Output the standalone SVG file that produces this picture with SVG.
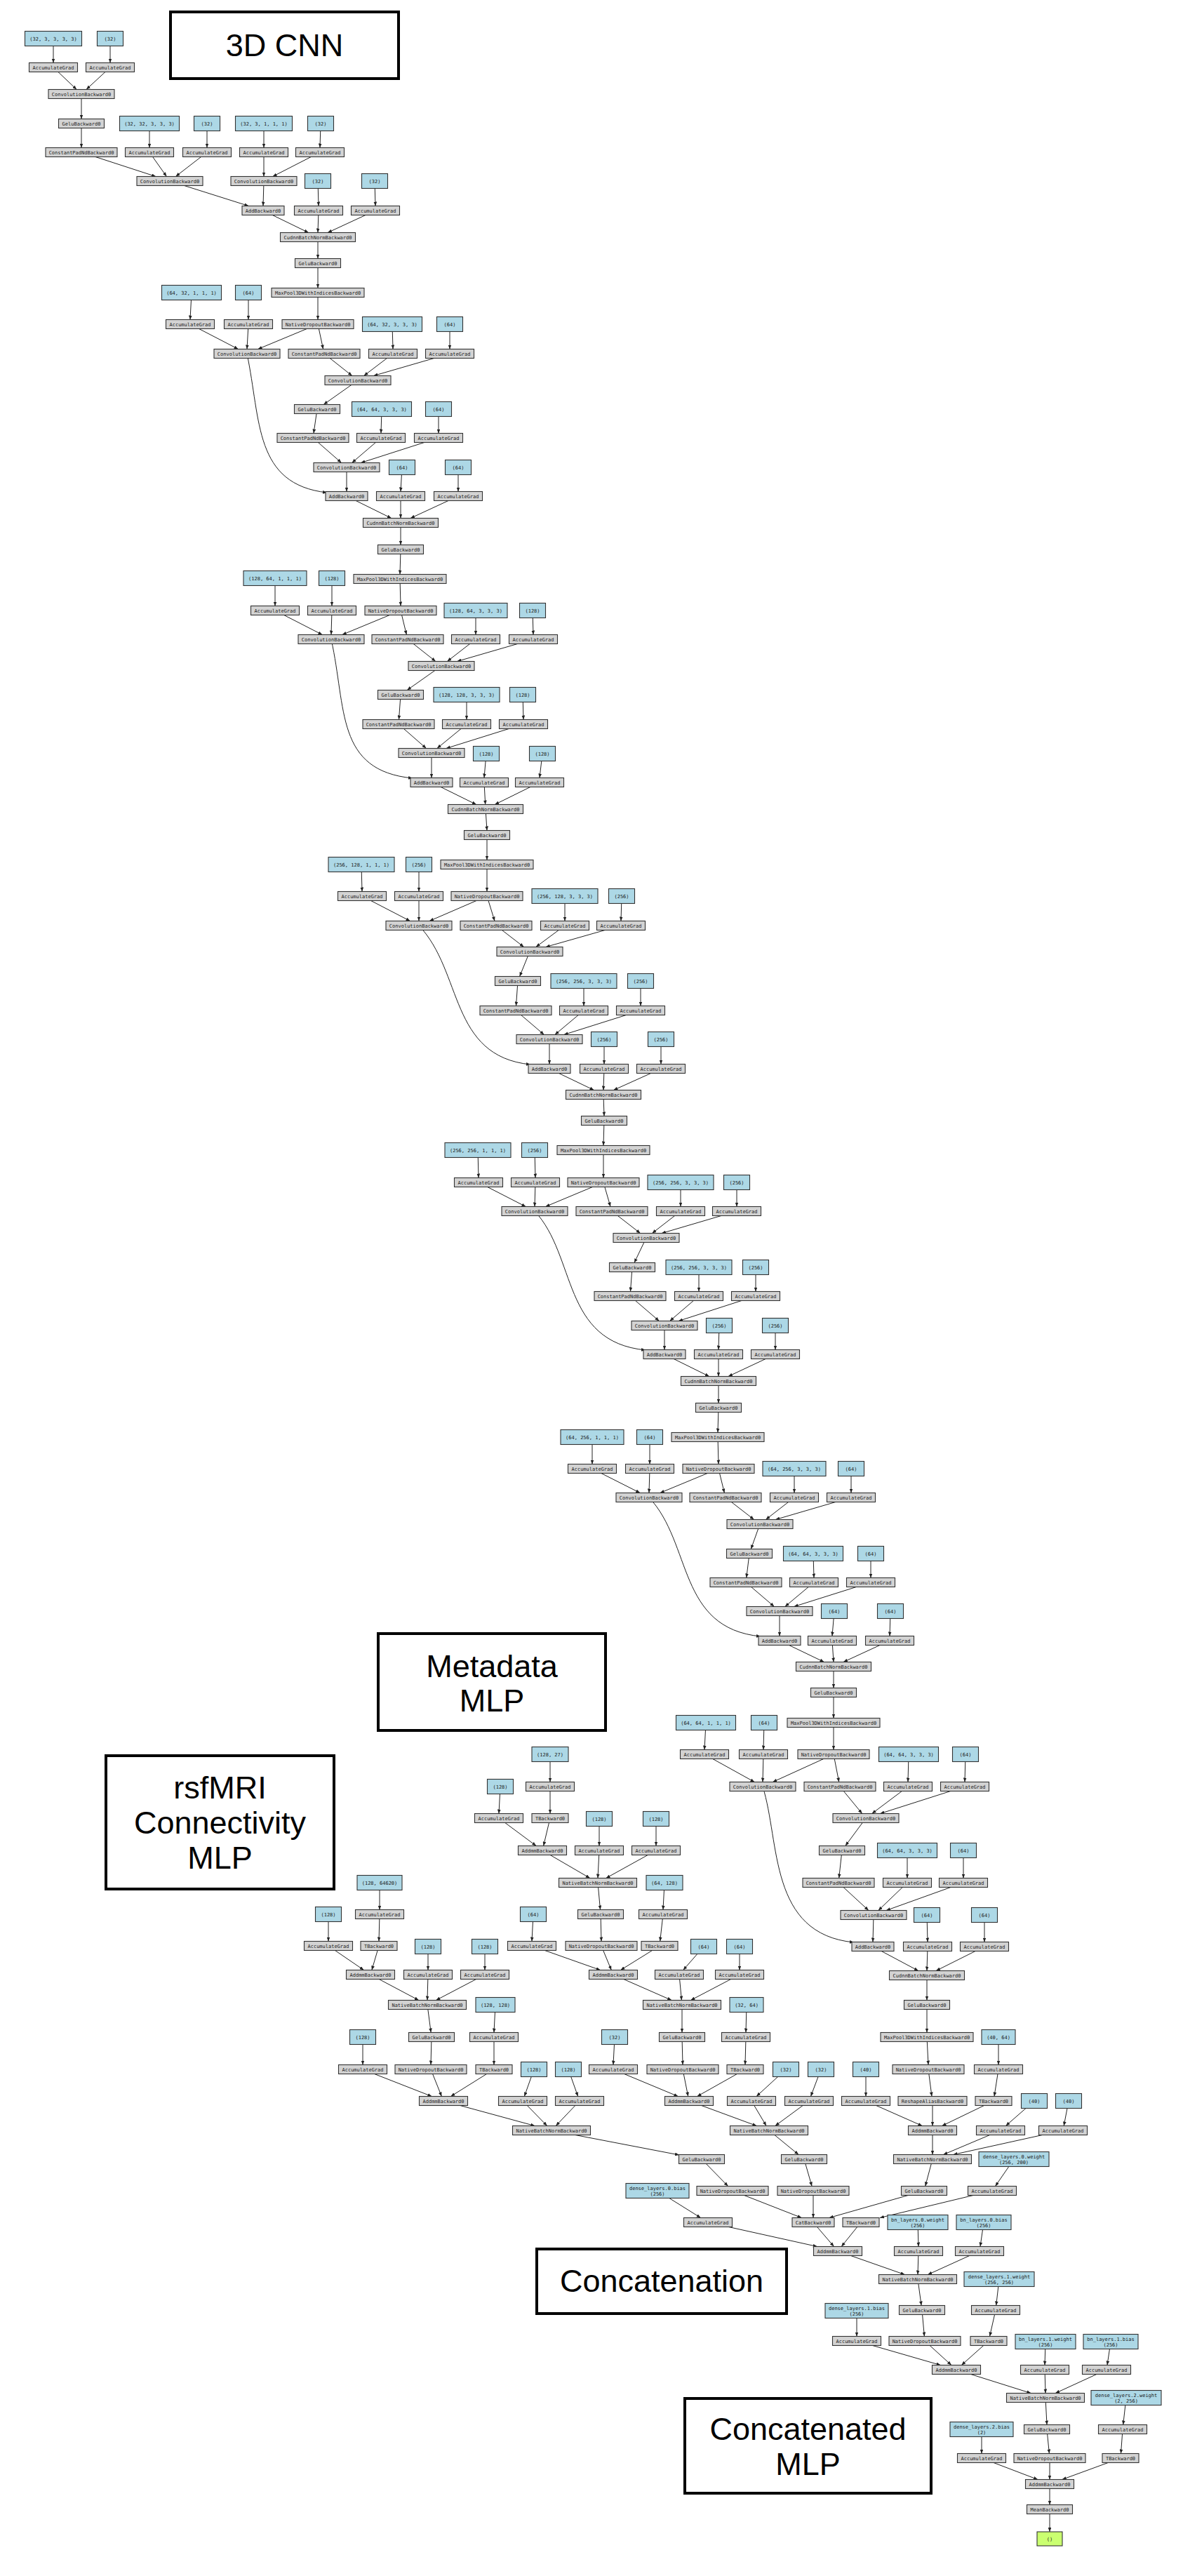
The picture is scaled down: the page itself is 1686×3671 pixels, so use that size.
<svg xmlns="http://www.w3.org/2000/svg" width="1686" height="3671" viewBox="0 0 1686 3671">
<defs>
<style>
.n rect{stroke:#333;stroke-width:1.1}
.g rect{fill:#d3d3d3}
.b rect{fill:#add8e6}
.o rect{fill:#caff70}
.n text{font-family:"DejaVu Sans Mono","Liberation Mono",monospace;font-size:7px;text-anchor:middle;fill:#1a1a1a}
.lbl rect{fill:#fff;stroke:#000;stroke-width:4}
.lbl text{font-family:"Liberation Sans",Arial,sans-serif;font-size:45px;text-anchor:middle;fill:#000}
#edges path{fill:none;stroke:#222;stroke-width:1}
</style>
<marker id="ar" viewBox="0 0 10 8" refX="10" refY="4" markerWidth="6" markerHeight="4.8" orient="auto" markerUnits="userSpaceOnUse"><path d="M0 0L10 4L0 8z" fill="#222"/></marker>
</defs>
<rect width="1686" height="3671" fill="#fff"/>
<g id="edges" marker-end="url(#ar)">
<path d="M76 55L76 89.5"/><path d="M157 55L157 89.5"/><path d="M76 96L109.2 127.5"/><path d="M157 96L123 127.5"/><path d="M116 134L116 169.5"/><path d="M116 176L116 210.5"/><path d="M213 176L213 210.5"/><path d="M295 176L295 210.5"/><path d="M376 176L376 210.5"/><path d="M457 176L456 210.5"/><path d="M116 217L222 251.5"/><path d="M213 217L237.4 251.5"/><path d="M295 217L250.4 251.5"/><path d="M376 217L376 251.5"/><path d="M456 217L388.7 251.5"/><path d="M242 258L354.4 293.5"/><path d="M376 258L375 293.5"/><path d="M453 258L454 293.5"/><path d="M534 258L535 293.5"/><path d="M375 300L439.7 331.5"/><path d="M454 300L453 331.5"/><path d="M535 300L467 331.5"/><path d="M453 338L453 368.5"/>
<path d="M453 375L453 410.5"/><path d="M453 417L453 455.5"/><path d="M273 417L271 455.5"/><path d="M354 417L354 455.5"/><path d="M271 462L339.5 497.5"/><path d="M354 462L352 497.5"/><path d="M453 462L367.6 497.5"/><path d="M453 462L460.6 497.5"/><path d="M559 462L560 497.5"/><path d="M641 462L641 497.5"/><path d="M462 504L501.8 535.5"/><path d="M560 504L518.6 535.5"/><path d="M641 504L532.4 535.5"/><path d="M510 542L461.2 576.5"/><path d="M452 583L447 617.5"/><path d="M544 583L543 617.5"/><path d="M625 583L625 617.5"/><path d="M446 624L486.6 659.5"/><path d="M543 624L501.6 659.5"/><path d="M625 624L514.3 659.5"/><path d="M352 504C372 600 362 690 466 702"/><path d="M494 666L494 700.5"/><path d="M573 666L571 700.5"/><path d="M653 666L653 700.5"/><path d="M494 707L557.8 738.5"/><path d="M571 707L571 738.5"/><path d="M653 707L585 738.5"/><path d="M571 745L571 776.5"/>
<path d="M571 783L570 818.5"/><path d="M570 825L571 863.5"/><path d="M392 824L392 863.5"/><path d="M473 824L473 863.5"/><path d="M392 870L459.3 904.5"/><path d="M473 870L472 904.5"/><path d="M571 870L487.7 904.5"/><path d="M571 870L579.4 904.5"/><path d="M678 870L678 904.5"/><path d="M759 870L760 904.5"/><path d="M581 911L620.8 942.5"/><path d="M678 911L637.4 942.5"/><path d="M760 911L651.4 942.5"/><path d="M629 949L580.2 983.5"/><path d="M571 990L568.5 1025.5"/><path d="M665 990L665 1025.5"/><path d="M745 990L746 1025.5"/><path d="M568 1032L607.5 1066.5"/><path d="M665 1032L622.9 1066.5"/><path d="M746 1032L635.8 1066.5"/><path d="M472 911C494 1010 478 1098 588 1109"/><path d="M615 1073L615 1108.5"/><path d="M693 1074L690 1108.5"/><path d="M773 1074L769 1108.5"/><path d="M615 1115L678.8 1146.5"/><path d="M690 1115L691.7 1146.5"/><path d="M769 1115L705.2 1146.5"/><path d="M692 1153L694 1183.5"/>
<path d="M694 1190L694 1225.5"/><path d="M694 1232L694 1270.5"/><path d="M515 1232L516 1270.5"/><path d="M597 1232L597 1270.5"/><path d="M516 1277L584.5 1312.5"/><path d="M597 1277L597 1312.5"/><path d="M694 1277L612 1312.5"/><path d="M694 1277L705 1312.5"/><path d="M805 1277L805 1312.5"/><path d="M886 1277L885 1312.5"/><path d="M707 1319L746.6 1349.5"/><path d="M805 1319L763.8 1349.5"/><path d="M885 1319L777.8 1349.5"/><path d="M755 1356L740.6 1391.5"/><path d="M738 1398L735.5 1433.5"/><path d="M832 1398L832 1433.5"/><path d="M913 1398L913 1433.5"/><path d="M735 1440L775.4 1474.5"/><path d="M832 1440L790.8 1474.5"/><path d="M913 1440L803.6 1474.5"/><path d="M597 1319C660 1385 640 1505 756 1517"/><path d="M783 1481L783 1516.5"/><path d="M861 1481L861 1516.5"/><path d="M942 1481L942 1516.5"/><path d="M783 1523L846.5 1553.5"/><path d="M861 1523L860 1553.5"/><path d="M942 1523L874.4 1553.5"/><path d="M860 1560L861 1590.5"/>
<path d="M861 1597L860 1632.5"/><path d="M860 1639L860 1678.5"/><path d="M681 1639L682 1678.5"/><path d="M762 1639L763 1678.5"/><path d="M682 1685L749.3 1719.5"/><path d="M763 1685L762 1719.5"/><path d="M860 1685L777.5 1719.5"/><path d="M860 1685L870 1719.5"/><path d="M970 1685L970 1719.5"/><path d="M1050 1685L1050 1719.5"/><path d="M872 1726L912.6 1757.5"/><path d="M970 1726L929.4 1757.5"/><path d="M1050 1726L943 1757.5"/><path d="M921 1764L904 1799.5"/><path d="M901 1806L898.5 1840.5"/><path d="M996 1806L996 1840.5"/><path d="M1077 1806L1077 1840.5"/><path d="M898 1847L939.4 1882.5"/><path d="M996 1847L954.6 1882.5"/><path d="M1077 1847L967.1 1882.5"/><path d="M762 1726C822 1790 800 1912 920 1924"/><path d="M947 1889L947 1923.5"/><path d="M1025 1889L1024 1923.5"/><path d="M1105 1889L1105 1923.5"/><path d="M947 1930L1010.8 1961.5"/><path d="M1024 1930L1024 1961.5"/><path d="M1105 1930L1037.9 1961.5"/><path d="M1024 1968L1024 1999.5"/>
<path d="M1024 2006L1023 2041.5"/><path d="M1023 2048L1024 2086.5"/><path d="M844 2048L844 2086.5"/><path d="M926 2048L926 2086.5"/><path d="M844 2093L912.2 2127.5"/><path d="M926 2093L925 2127.5"/><path d="M1024 2093L940.7 2127.5"/><path d="M1024 2093L1032.4 2127.5"/><path d="M1132 2093L1132 2127.5"/><path d="M1213 2093L1213 2127.5"/><path d="M1034 2134L1074.6 2165.5"/><path d="M1132 2134L1091.4 2165.5"/><path d="M1213 2134L1105.2 2165.5"/><path d="M1083 2172L1070.3 2207.5"/><path d="M1068 2214L1063.8 2248.5"/><path d="M1159 2214L1160 2248.5"/><path d="M1241 2214L1241 2248.5"/><path d="M1063 2255L1103.4 2289.5"/><path d="M1160 2255L1118.8 2289.5"/><path d="M1241 2255L1131.6 2289.5"/><path d="M925 2134C987 2200 965 2320 1084 2332"/><path d="M1111 2296L1111 2331.5"/><path d="M1189 2296L1186 2331.5"/><path d="M1269 2296L1268 2331.5"/><path d="M1111 2338L1174.5 2368.5"/><path d="M1186 2338L1188 2368.5"/><path d="M1268 2338L1202 2368.5"/><path d="M1188 2375L1188 2405.5"/>
<path d="M1188 2412L1188 2448.5"/><path d="M1188 2455L1188 2493.5"/><path d="M1006 2455L1004 2493.5"/><path d="M1089 2455L1088 2493.5"/><path d="M1004 2500L1075.3 2539.5"/><path d="M1088 2500L1087 2539.5"/><path d="M1188 2500L1101.3 2539.5"/><path d="M1188 2500L1195.7 2539.5"/><path d="M1295 2500L1294 2539.5"/><path d="M1376 2500L1375 2539.5"/><path d="M1197 2546L1228.7 2584.5"/><path d="M1294 2546L1242.7 2584.5"/><path d="M1375 2546L1254.4 2584.5"/><path d="M1234 2591L1204.8 2630.5"/><path d="M1200 2637L1195.7 2676.5"/><path d="M1293 2637L1293 2676.5"/><path d="M1373 2637L1373 2676.5"/><path d="M1195 2683L1237.9 2722.5"/><path d="M1293 2683L1251.8 2722.5"/><path d="M1373 2683L1263 2722.5"/><path d="M1087 2546C1112 2625 1095 2756 1217 2768"/><path d="M1245 2729L1244 2767.5"/><path d="M1321 2729L1322 2767.5"/><path d="M1403 2729L1403 2767.5"/><path d="M1244 2774L1308.8 2808.5"/><path d="M1322 2774L1321 2808.5"/><path d="M1403 2774L1334 2808.5"/><path d="M1321 2815L1321 2850.5"/>
<path d="M1321 2857L1321 2896.5"/><path d="M1321 2903L1323 2942.5"/><path d="M1423 2903L1423 2942.5"/><path d="M1323 2949L1328 2987.5"/><path d="M1423 2949L1417 2987.5"/><path d="M1234 2949L1234 2987.5"/><path d="M1234 2994L1314.3 3029.5"/><path d="M1329 2994L1329 3029.5"/><path d="M1416 2994L1342.5 3029.5"/><path d="M1474 2994L1433.4 3029.5"/><path d="M1523 2994L1516.2 3029.5"/><path d="M1329 3036L1329 3070.5"/><path d="M1426 3036L1344.4 3070.5"/><path d="M1515 3036L1358.5 3070.5"/><path d="M1329 3077L1318.7 3115.5"/><path d="M1445 3077L1418.5 3115.5"/><path d="M1317 3122L1181.8 3160.5"/><path d="M1414 3122L1254 3160.5"/>
<path d="M784 2500L784 2539.5"/><path d="M784 2546L784 2584.5"/><path d="M713 2546L711 2584.5"/><path d="M711 2591L764.2 2630.5"/><path d="M784 2591L774.6 2630.5"/><path d="M854 2592L854 2630.5"/><path d="M935 2592L935 2630.5"/><path d="M773 2637L840.8 2676.5"/><path d="M854 2637L852 2676.5"/><path d="M935 2637L863.7 2676.5"/><path d="M852 2683L855.5 2721.5"/><path d="M856 2728L857 2766.5"/><path d="M947 2683L945 2721.5"/><path d="M945 2728L940.7 2766.5"/><path d="M760 2728L758 2766.5"/><path d="M758 2773L855.6 2807.5"/><path d="M857 2773L871.3 2807.5"/><path d="M940 2773L884.5 2807.5"/><path d="M1003 2774L973.7 2807.5"/><path d="M1054 2774L1054 2807.5"/><path d="M874 2814L957.2 2850.5"/><path d="M968 2814L971.4 2850.5"/><path d="M1054 2814L984.4 2850.5"/><path d="M972 2857L972 2896.5"/><path d="M972 2903L973 2942.5"/><path d="M876 2903L874 2942.5"/><path d="M1064 2857L1063 2896.5"/><path d="M1063 2903L1062 2942.5"/><path d="M874 2949L966.4 2987.5"/><path d="M973 2949L980.7 2987.5"/><path d="M1062 2949L993.6 2987.5"/><path d="M1120 2949L1078.1 2987.5"/><path d="M1170 2949L1155.5 2987.5"/><path d="M982 2994L1078.4 3029.5"/><path d="M1071 2994L1092.1 3029.5"/><path d="M1153 2994L1104.8 3029.5"/><path d="M1096 3036L1138.1 3070.5"/><path d="M1146 3077L1157.1 3115.5"/><path d="M1159 3122L1159 3160.5"/>
<path d="M541 2683L541 2721.5"/><path d="M541 2728L540 2766.5"/><path d="M468 2728L468 2766.5"/><path d="M468 2773L518.5 2807.5"/><path d="M540 2773L529.9 2807.5"/><path d="M610 2774L610 2807.5"/><path d="M691 2774L691 2807.5"/><path d="M528 2814L596.8 2850.5"/><path d="M610 2814L609 2850.5"/><path d="M691 2814L621.4 2850.5"/><path d="M609 2857L614.2 2896.5"/><path d="M615 2903L614 2942.5"/><path d="M706 2857L704 2896.5"/><path d="M704 2903L704 2942.5"/><path d="M517 2903L517 2942.5"/><path d="M517 2949L615.4 2987.5"/><path d="M614 2949L629.4 2987.5"/><path d="M704 2949L642.4 2987.5"/><path d="M761 2949L747.3 2987.5"/><path d="M810 2949L823.7 2987.5"/><path d="M632 2994L762.2 3029.5"/><path d="M745 2994L779.7 3029.5"/><path d="M826 2994L792.2 3029.5"/><path d="M786 3036L968 3071"/><path d="M1000 3077L1037.6 3115.5"/><path d="M1044 3122L1142.4 3160.5"/>
<path d="M937 3122L998.6 3160.5"/><path d="M1009 3167L1164.7 3201.5"/><path d="M1159 3167L1188.5 3201.5"/><path d="M1227 3167L1199.2 3201.5"/><path d="M1308 3167L1309 3201.5"/><path d="M1402 3167L1397 3201.5"/><path d="M1194 3208L1289.5 3241.5"/><path d="M1309 3208L1308 3241.5"/><path d="M1396 3208L1322.3 3241.5"/><path d="M1308 3248L1313.1 3285.5"/><path d="M1314 3292L1317.4 3329.5"/><path d="M1424 3248L1419.7 3285.5"/><path d="M1419 3292L1410.5 3329.5"/><path d="M1221 3293L1221 3329.5"/><path d="M1221 3336L1340.5 3370.5"/><path d="M1318 3336L1355.9 3370.5"/><path d="M1409 3336L1370.3 3370.5"/><path d="M1490 3337L1489 3370.5"/><path d="M1583 3337L1578 3370.5"/><path d="M1363 3377L1469.4 3410.5"/><path d="M1489 3377L1490 3410.5"/><path d="M1577 3377L1504.1 3410.5"/><path d="M1490 3417L1492 3455.5"/><path d="M1492 3462L1495.4 3496.5"/><path d="M1605 3417L1600.7 3455.5"/><path d="M1600 3462L1597.5 3496.5"/><path d="M1399 3462L1399 3496.5"/><path d="M1399 3503L1479 3533.5"/><path d="M1496 3503L1496 3533.5"/><path d="M1597 3503L1513.7 3533.5"/><path d="M1496 3540L1496 3569.5"/><path d="M1496 3576L1496 3608"/>
</g>
<g id="nodes">
<g id="b1" class="n b" transform="translate(76,55)"><rect x="-40.5" y="-10.5" width="81" height="21"/><text y="2.5">(32, 3, 3, 3, 3)</text></g>
<g id="b2" class="n b" transform="translate(157,55)"><rect x="-18.5" y="-10.5" width="37" height="21"/><text y="2.5">(32)</text></g>
<g id="a1" class="n g" transform="translate(76,96)"><rect x="-34.5" y="-6.5" width="69" height="13"/><text y="2.5">AccumulateGrad</text></g>
<g id="a2" class="n g" transform="translate(157,96)"><rect x="-34.5" y="-6.5" width="69" height="13"/><text y="2.5">AccumulateGrad</text></g>
<g id="c1" class="n g" transform="translate(116,134)"><rect x="-47" y="-6.5" width="94" height="13"/><text y="2.5">ConvolutionBackward0</text></g>
<g id="g1" class="n g" transform="translate(116,176)"><rect x="-32.5" y="-6.5" width="65" height="13"/><text y="2.5">GeluBackward0</text></g>
<g id="p1" class="n g" transform="translate(116,217)"><rect x="-51" y="-6.5" width="102" height="13"/><text y="2.5">ConstantPadNdBackward0</text></g>
<g id="b3" class="n b" transform="translate(213,176)"><rect x="-42.5" y="-10.5" width="85" height="21"/><text y="2.5">(32, 32, 3, 3, 3)</text></g>
<g id="b4" class="n b" transform="translate(295,176)"><rect x="-18.5" y="-10.5" width="37" height="21"/><text y="2.5">(32)</text></g>
<g id="a3" class="n g" transform="translate(213,217)"><rect x="-34.5" y="-6.5" width="69" height="13"/><text y="2.5">AccumulateGrad</text></g>
<g id="a4" class="n g" transform="translate(295,217)"><rect x="-34.5" y="-6.5" width="69" height="13"/><text y="2.5">AccumulateGrad</text></g>
<g id="b5" class="n b" transform="translate(376,176)"><rect x="-40.5" y="-10.5" width="81" height="21"/><text y="2.5">(32, 3, 1, 1, 1)</text></g>
<g id="b6" class="n b" transform="translate(457,176)"><rect x="-18.5" y="-10.5" width="37" height="21"/><text y="2.5">(32)</text></g>
<g id="a5" class="n g" transform="translate(376,217)"><rect x="-34.5" y="-6.5" width="69" height="13"/><text y="2.5">AccumulateGrad</text></g>
<g id="a6" class="n g" transform="translate(456,217)"><rect x="-34.5" y="-6.5" width="69" height="13"/><text y="2.5">AccumulateGrad</text></g>
<g id="c2" class="n g" transform="translate(242,258)"><rect x="-47" y="-6.5" width="94" height="13"/><text y="2.5">ConvolutionBackward0</text></g>
<g id="c3" class="n g" transform="translate(376,258)"><rect x="-47" y="-6.5" width="94" height="13"/><text y="2.5">ConvolutionBackward0</text></g>
<g id="b7" class="n b" transform="translate(453,258)"><rect x="-18.5" y="-10.5" width="37" height="21"/><text y="2.5">(32)</text></g>
<g id="b8" class="n b" transform="translate(534,258)"><rect x="-18.5" y="-10.5" width="37" height="21"/><text y="2.5">(32)</text></g>
<g id="add1" class="n g" transform="translate(375,300)"><rect x="-30" y="-6.5" width="60" height="13"/><text y="2.5">AddBackward0</text></g>
<g id="a7" class="n g" transform="translate(454,300)"><rect x="-34.5" y="-6.5" width="69" height="13"/><text y="2.5">AccumulateGrad</text></g>
<g id="a8" class="n g" transform="translate(535,300)"><rect x="-34.5" y="-6.5" width="69" height="13"/><text y="2.5">AccumulateGrad</text></g>
<g id="bn1" class="n g" transform="translate(453,338)"><rect x="-53.5" y="-6.5" width="107" height="13"/><text y="2.5">CudnnBatchNormBackward0</text></g>

<g id="g2" class="n g" transform="translate(453,375)"><rect x="-32.5" y="-6.5" width="65" height="13"/><text y="2.5">GeluBackward0</text></g>
<g id="m1" class="n g" transform="translate(453,417)"><rect x="-66" y="-6.5" width="132" height="13"/><text y="2.5">MaxPool3DWithIndicesBackward0</text></g>
<g id="b9" class="n b" transform="translate(273,417)"><rect x="-42.5" y="-10.5" width="85" height="21"/><text y="2.5">(64, 32, 1, 1, 1)</text></g>
<g id="b10" class="n b" transform="translate(354,417)"><rect x="-18.5" y="-10.5" width="37" height="21"/><text y="2.5">(64)</text></g>
<g id="a9" class="n g" transform="translate(271,462)"><rect x="-34.5" y="-6.5" width="69" height="13"/><text y="2.5">AccumulateGrad</text></g>
<g id="a10" class="n g" transform="translate(354,462)"><rect x="-34.5" y="-6.5" width="69" height="13"/><text y="2.5">AccumulateGrad</text></g>
<g id="d1" class="n g" transform="translate(453,462)"><rect x="-51" y="-6.5" width="102" height="13"/><text y="2.5">NativeDropoutBackward0</text></g>
<g id="b11" class="n b" transform="translate(559,462)"><rect x="-42.5" y="-10.5" width="85" height="21"/><text y="2.5">(64, 32, 3, 3, 3)</text></g>
<g id="b12" class="n b" transform="translate(641,462)"><rect x="-18.5" y="-10.5" width="37" height="21"/><text y="2.5">(64)</text></g>
<g id="c4" class="n g" transform="translate(352,504)"><rect x="-47" y="-6.5" width="94" height="13"/><text y="2.5">ConvolutionBackward0</text></g>
<g id="p2" class="n g" transform="translate(462,504)"><rect x="-51" y="-6.5" width="102" height="13"/><text y="2.5">ConstantPadNdBackward0</text></g>
<g id="a11" class="n g" transform="translate(560,504)"><rect x="-34.5" y="-6.5" width="69" height="13"/><text y="2.5">AccumulateGrad</text></g>
<g id="a12" class="n g" transform="translate(641,504)"><rect x="-34.5" y="-6.5" width="69" height="13"/><text y="2.5">AccumulateGrad</text></g>
<g id="c5" class="n g" transform="translate(510,542)"><rect x="-47" y="-6.5" width="94" height="13"/><text y="2.5">ConvolutionBackward0</text></g>
<g id="g3" class="n g" transform="translate(452,583)"><rect x="-32.5" y="-6.5" width="65" height="13"/><text y="2.5">GeluBackward0</text></g>
<g id="b13" class="n b" transform="translate(544,583)"><rect x="-42.5" y="-10.5" width="85" height="21"/><text y="2.5">(64, 64, 3, 3, 3)</text></g>
<g id="b14" class="n b" transform="translate(625,583)"><rect x="-18.5" y="-10.5" width="37" height="21"/><text y="2.5">(64)</text></g>
<g id="p3" class="n g" transform="translate(446,624)"><rect x="-51" y="-6.5" width="102" height="13"/><text y="2.5">ConstantPadNdBackward0</text></g>
<g id="a13" class="n g" transform="translate(543,624)"><rect x="-34.5" y="-6.5" width="69" height="13"/><text y="2.5">AccumulateGrad</text></g>
<g id="a14" class="n g" transform="translate(625,624)"><rect x="-34.5" y="-6.5" width="69" height="13"/><text y="2.5">AccumulateGrad</text></g>
<g id="c6" class="n g" transform="translate(494,666)"><rect x="-47" y="-6.5" width="94" height="13"/><text y="2.5">ConvolutionBackward0</text></g>
<g id="b15" class="n b" transform="translate(573,666)"><rect x="-18.5" y="-10.5" width="37" height="21"/><text y="2.5">(64)</text></g>
<g id="b16" class="n b" transform="translate(653,666)"><rect x="-18.5" y="-10.5" width="37" height="21"/><text y="2.5">(64)</text></g>
<g id="add2" class="n g" transform="translate(494,707)"><rect x="-30" y="-6.5" width="60" height="13"/><text y="2.5">AddBackward0</text></g>
<g id="a15" class="n g" transform="translate(571,707)"><rect x="-34.5" y="-6.5" width="69" height="13"/><text y="2.5">AccumulateGrad</text></g>
<g id="a16" class="n g" transform="translate(653,707)"><rect x="-34.5" y="-6.5" width="69" height="13"/><text y="2.5">AccumulateGrad</text></g>
<g id="bn2" class="n g" transform="translate(571,745)"><rect x="-53.5" y="-6.5" width="107" height="13"/><text y="2.5">CudnnBatchNormBackward0</text></g>

<g id="g4" class="n g" transform="translate(571,783)"><rect x="-32.5" y="-6.5" width="65" height="13"/><text y="2.5">GeluBackward0</text></g>
<g id="m2" class="n g" transform="translate(570,825)"><rect x="-66" y="-6.5" width="132" height="13"/><text y="2.5">MaxPool3DWithIndicesBackward0</text></g>
<g id="b17" class="n b" transform="translate(392,824)"><rect x="-45" y="-10.5" width="90" height="21"/><text y="2.5">(128, 64, 1, 1, 1)</text></g>
<g id="b18" class="n b" transform="translate(473,824)"><rect x="-18.5" y="-10.5" width="37" height="21"/><text y="2.5">(128)</text></g>
<g id="a17" class="n g" transform="translate(392,870)"><rect x="-34.5" y="-6.5" width="69" height="13"/><text y="2.5">AccumulateGrad</text></g>
<g id="a18" class="n g" transform="translate(473,870)"><rect x="-34.5" y="-6.5" width="69" height="13"/><text y="2.5">AccumulateGrad</text></g>
<g id="d2" class="n g" transform="translate(571,870)"><rect x="-51" y="-6.5" width="102" height="13"/><text y="2.5">NativeDropoutBackward0</text></g>
<g id="b19" class="n b" transform="translate(678,870)"><rect x="-45" y="-10.5" width="90" height="21"/><text y="2.5">(128, 64, 3, 3, 3)</text></g>
<g id="b20" class="n b" transform="translate(759,870)"><rect x="-18.5" y="-10.5" width="37" height="21"/><text y="2.5">(128)</text></g>
<g id="c7" class="n g" transform="translate(472,911)"><rect x="-47" y="-6.5" width="94" height="13"/><text y="2.5">ConvolutionBackward0</text></g>
<g id="p4" class="n g" transform="translate(581,911)"><rect x="-51" y="-6.5" width="102" height="13"/><text y="2.5">ConstantPadNdBackward0</text></g>
<g id="a19" class="n g" transform="translate(678,911)"><rect x="-34.5" y="-6.5" width="69" height="13"/><text y="2.5">AccumulateGrad</text></g>
<g id="a20" class="n g" transform="translate(760,911)"><rect x="-34.5" y="-6.5" width="69" height="13"/><text y="2.5">AccumulateGrad</text></g>
<g id="c8" class="n g" transform="translate(629,949)"><rect x="-47" y="-6.5" width="94" height="13"/><text y="2.5">ConvolutionBackward0</text></g>
<g id="g5" class="n g" transform="translate(571,990)"><rect x="-32.5" y="-6.5" width="65" height="13"/><text y="2.5">GeluBackward0</text></g>
<g id="b21" class="n b" transform="translate(665,990)"><rect x="-47" y="-10.5" width="94" height="21"/><text y="2.5">(128, 128, 3, 3, 3)</text></g>
<g id="b22" class="n b" transform="translate(745,990)"><rect x="-18.5" y="-10.5" width="37" height="21"/><text y="2.5">(128)</text></g>
<g id="p5" class="n g" transform="translate(568,1032)"><rect x="-51" y="-6.5" width="102" height="13"/><text y="2.5">ConstantPadNdBackward0</text></g>
<g id="a21" class="n g" transform="translate(665,1032)"><rect x="-34.5" y="-6.5" width="69" height="13"/><text y="2.5">AccumulateGrad</text></g>
<g id="a22" class="n g" transform="translate(746,1032)"><rect x="-34.5" y="-6.5" width="69" height="13"/><text y="2.5">AccumulateGrad</text></g>
<g id="c9" class="n g" transform="translate(615,1073)"><rect x="-47" y="-6.5" width="94" height="13"/><text y="2.5">ConvolutionBackward0</text></g>
<g id="b23" class="n b" transform="translate(693,1074)"><rect x="-18.5" y="-10.5" width="37" height="21"/><text y="2.5">(128)</text></g>
<g id="b24" class="n b" transform="translate(773,1074)"><rect x="-18.5" y="-10.5" width="37" height="21"/><text y="2.5">(128)</text></g>
<g id="add3" class="n g" transform="translate(615,1115)"><rect x="-30" y="-6.5" width="60" height="13"/><text y="2.5">AddBackward0</text></g>
<g id="a23" class="n g" transform="translate(690,1115)"><rect x="-34.5" y="-6.5" width="69" height="13"/><text y="2.5">AccumulateGrad</text></g>
<g id="a24" class="n g" transform="translate(769,1115)"><rect x="-34.5" y="-6.5" width="69" height="13"/><text y="2.5">AccumulateGrad</text></g>
<g id="bn3" class="n g" transform="translate(692,1153)"><rect x="-53.5" y="-6.5" width="107" height="13"/><text y="2.5">CudnnBatchNormBackward0</text></g>

<g id="g6" class="n g" transform="translate(694,1190)"><rect x="-32.5" y="-6.5" width="65" height="13"/><text y="2.5">GeluBackward0</text></g>
<g id="m3" class="n g" transform="translate(694,1232)"><rect x="-66" y="-6.5" width="132" height="13"/><text y="2.5">MaxPool3DWithIndicesBackward0</text></g>
<g id="b25" class="n b" transform="translate(515,1232)"><rect x="-47" y="-10.5" width="94" height="21"/><text y="2.5">(256, 128, 1, 1, 1)</text></g>
<g id="b26" class="n b" transform="translate(597,1232)"><rect x="-18.5" y="-10.5" width="37" height="21"/><text y="2.5">(256)</text></g>
<g id="a25" class="n g" transform="translate(516,1277)"><rect x="-34.5" y="-6.5" width="69" height="13"/><text y="2.5">AccumulateGrad</text></g>
<g id="a26" class="n g" transform="translate(597,1277)"><rect x="-34.5" y="-6.5" width="69" height="13"/><text y="2.5">AccumulateGrad</text></g>
<g id="d3" class="n g" transform="translate(694,1277)"><rect x="-51" y="-6.5" width="102" height="13"/><text y="2.5">NativeDropoutBackward0</text></g>
<g id="b27" class="n b" transform="translate(805,1277)"><rect x="-47" y="-10.5" width="94" height="21"/><text y="2.5">(256, 128, 3, 3, 3)</text></g>
<g id="b28" class="n b" transform="translate(886,1277)"><rect x="-18.5" y="-10.5" width="37" height="21"/><text y="2.5">(256)</text></g>
<g id="c10" class="n g" transform="translate(597,1319)"><rect x="-47" y="-6.5" width="94" height="13"/><text y="2.5">ConvolutionBackward0</text></g>
<g id="p6" class="n g" transform="translate(707,1319)"><rect x="-51" y="-6.5" width="102" height="13"/><text y="2.5">ConstantPadNdBackward0</text></g>
<g id="a27" class="n g" transform="translate(805,1319)"><rect x="-34.5" y="-6.5" width="69" height="13"/><text y="2.5">AccumulateGrad</text></g>
<g id="a28" class="n g" transform="translate(885,1319)"><rect x="-34.5" y="-6.5" width="69" height="13"/><text y="2.5">AccumulateGrad</text></g>
<g id="c11" class="n g" transform="translate(755,1356)"><rect x="-47" y="-6.5" width="94" height="13"/><text y="2.5">ConvolutionBackward0</text></g>
<g id="g7" class="n g" transform="translate(738,1398)"><rect x="-32.5" y="-6.5" width="65" height="13"/><text y="2.5">GeluBackward0</text></g>
<g id="b29" class="n b" transform="translate(832,1398)"><rect x="-47" y="-10.5" width="94" height="21"/><text y="2.5">(256, 256, 3, 3, 3)</text></g>
<g id="b30" class="n b" transform="translate(913,1398)"><rect x="-18.5" y="-10.5" width="37" height="21"/><text y="2.5">(256)</text></g>
<g id="p7" class="n g" transform="translate(735,1440)"><rect x="-51" y="-6.5" width="102" height="13"/><text y="2.5">ConstantPadNdBackward0</text></g>
<g id="a29" class="n g" transform="translate(832,1440)"><rect x="-34.5" y="-6.5" width="69" height="13"/><text y="2.5">AccumulateGrad</text></g>
<g id="a30" class="n g" transform="translate(913,1440)"><rect x="-34.5" y="-6.5" width="69" height="13"/><text y="2.5">AccumulateGrad</text></g>
<g id="c12" class="n g" transform="translate(783,1481)"><rect x="-47" y="-6.5" width="94" height="13"/><text y="2.5">ConvolutionBackward0</text></g>
<g id="b31" class="n b" transform="translate(861,1481)"><rect x="-18.5" y="-10.5" width="37" height="21"/><text y="2.5">(256)</text></g>
<g id="b32" class="n b" transform="translate(942,1481)"><rect x="-18.5" y="-10.5" width="37" height="21"/><text y="2.5">(256)</text></g>
<g id="add4" class="n g" transform="translate(783,1523)"><rect x="-30" y="-6.5" width="60" height="13"/><text y="2.5">AddBackward0</text></g>
<g id="a31" class="n g" transform="translate(861,1523)"><rect x="-34.5" y="-6.5" width="69" height="13"/><text y="2.5">AccumulateGrad</text></g>
<g id="a32" class="n g" transform="translate(942,1523)"><rect x="-34.5" y="-6.5" width="69" height="13"/><text y="2.5">AccumulateGrad</text></g>
<g id="bn4" class="n g" transform="translate(860,1560)"><rect x="-53.5" y="-6.5" width="107" height="13"/><text y="2.5">CudnnBatchNormBackward0</text></g>

<g id="g8" class="n g" transform="translate(861,1597)"><rect x="-32.5" y="-6.5" width="65" height="13"/><text y="2.5">GeluBackward0</text></g>
<g id="m4" class="n g" transform="translate(860,1639)"><rect x="-66" y="-6.5" width="132" height="13"/><text y="2.5">MaxPool3DWithIndicesBackward0</text></g>
<g id="b33" class="n b" transform="translate(681,1639)"><rect x="-47" y="-10.5" width="94" height="21"/><text y="2.5">(256, 256, 1, 1, 1)</text></g>
<g id="b34" class="n b" transform="translate(762,1639)"><rect x="-18.5" y="-10.5" width="37" height="21"/><text y="2.5">(256)</text></g>
<g id="a33" class="n g" transform="translate(682,1685)"><rect x="-34.5" y="-6.5" width="69" height="13"/><text y="2.5">AccumulateGrad</text></g>
<g id="a34" class="n g" transform="translate(763,1685)"><rect x="-34.5" y="-6.5" width="69" height="13"/><text y="2.5">AccumulateGrad</text></g>
<g id="d4" class="n g" transform="translate(860,1685)"><rect x="-51" y="-6.5" width="102" height="13"/><text y="2.5">NativeDropoutBackward0</text></g>
<g id="b35" class="n b" transform="translate(970,1685)"><rect x="-47" y="-10.5" width="94" height="21"/><text y="2.5">(256, 256, 3, 3, 3)</text></g>
<g id="b36" class="n b" transform="translate(1050,1685)"><rect x="-18.5" y="-10.5" width="37" height="21"/><text y="2.5">(256)</text></g>
<g id="c13" class="n g" transform="translate(762,1726)"><rect x="-47" y="-6.5" width="94" height="13"/><text y="2.5">ConvolutionBackward0</text></g>
<g id="p8" class="n g" transform="translate(872,1726)"><rect x="-51" y="-6.5" width="102" height="13"/><text y="2.5">ConstantPadNdBackward0</text></g>
<g id="a35" class="n g" transform="translate(970,1726)"><rect x="-34.5" y="-6.5" width="69" height="13"/><text y="2.5">AccumulateGrad</text></g>
<g id="a36" class="n g" transform="translate(1050,1726)"><rect x="-34.5" y="-6.5" width="69" height="13"/><text y="2.5">AccumulateGrad</text></g>
<g id="c14" class="n g" transform="translate(921,1764)"><rect x="-47" y="-6.5" width="94" height="13"/><text y="2.5">ConvolutionBackward0</text></g>
<g id="g9" class="n g" transform="translate(901,1806)"><rect x="-32.5" y="-6.5" width="65" height="13"/><text y="2.5">GeluBackward0</text></g>
<g id="b37" class="n b" transform="translate(996,1806)"><rect x="-47" y="-10.5" width="94" height="21"/><text y="2.5">(256, 256, 3, 3, 3)</text></g>
<g id="b38" class="n b" transform="translate(1077,1806)"><rect x="-18.5" y="-10.5" width="37" height="21"/><text y="2.5">(256)</text></g>
<g id="p9" class="n g" transform="translate(898,1847)"><rect x="-51" y="-6.5" width="102" height="13"/><text y="2.5">ConstantPadNdBackward0</text></g>
<g id="a37" class="n g" transform="translate(996,1847)"><rect x="-34.5" y="-6.5" width="69" height="13"/><text y="2.5">AccumulateGrad</text></g>
<g id="a38" class="n g" transform="translate(1077,1847)"><rect x="-34.5" y="-6.5" width="69" height="13"/><text y="2.5">AccumulateGrad</text></g>
<g id="c15" class="n g" transform="translate(947,1889)"><rect x="-47" y="-6.5" width="94" height="13"/><text y="2.5">ConvolutionBackward0</text></g>
<g id="b39" class="n b" transform="translate(1025,1889)"><rect x="-18.5" y="-10.5" width="37" height="21"/><text y="2.5">(256)</text></g>
<g id="b40" class="n b" transform="translate(1105,1889)"><rect x="-18.5" y="-10.5" width="37" height="21"/><text y="2.5">(256)</text></g>
<g id="add5" class="n g" transform="translate(947,1930)"><rect x="-30" y="-6.5" width="60" height="13"/><text y="2.5">AddBackward0</text></g>
<g id="a39" class="n g" transform="translate(1024,1930)"><rect x="-34.5" y="-6.5" width="69" height="13"/><text y="2.5">AccumulateGrad</text></g>
<g id="a40" class="n g" transform="translate(1105,1930)"><rect x="-34.5" y="-6.5" width="69" height="13"/><text y="2.5">AccumulateGrad</text></g>
<g id="bn5" class="n g" transform="translate(1024,1968)"><rect x="-53.5" y="-6.5" width="107" height="13"/><text y="2.5">CudnnBatchNormBackward0</text></g>

<g id="g10" class="n g" transform="translate(1024,2006)"><rect x="-32.5" y="-6.5" width="65" height="13"/><text y="2.5">GeluBackward0</text></g>
<g id="m5" class="n g" transform="translate(1023,2048)"><rect x="-66" y="-6.5" width="132" height="13"/><text y="2.5">MaxPool3DWithIndicesBackward0</text></g>
<g id="b41" class="n b" transform="translate(844,2048)"><rect x="-45" y="-10.5" width="90" height="21"/><text y="2.5">(64, 256, 1, 1, 1)</text></g>
<g id="b42" class="n b" transform="translate(926,2048)"><rect x="-18.5" y="-10.5" width="37" height="21"/><text y="2.5">(64)</text></g>
<g id="a41" class="n g" transform="translate(844,2093)"><rect x="-34.5" y="-6.5" width="69" height="13"/><text y="2.5">AccumulateGrad</text></g>
<g id="a42" class="n g" transform="translate(926,2093)"><rect x="-34.5" y="-6.5" width="69" height="13"/><text y="2.5">AccumulateGrad</text></g>
<g id="d5" class="n g" transform="translate(1024,2093)"><rect x="-51" y="-6.5" width="102" height="13"/><text y="2.5">NativeDropoutBackward0</text></g>
<g id="b43" class="n b" transform="translate(1132,2093)"><rect x="-45" y="-10.5" width="90" height="21"/><text y="2.5">(64, 256, 3, 3, 3)</text></g>
<g id="b44" class="n b" transform="translate(1213,2093)"><rect x="-18.5" y="-10.5" width="37" height="21"/><text y="2.5">(64)</text></g>
<g id="c16" class="n g" transform="translate(925,2134)"><rect x="-47" y="-6.5" width="94" height="13"/><text y="2.5">ConvolutionBackward0</text></g>
<g id="p10" class="n g" transform="translate(1034,2134)"><rect x="-51" y="-6.5" width="102" height="13"/><text y="2.5">ConstantPadNdBackward0</text></g>
<g id="a43" class="n g" transform="translate(1132,2134)"><rect x="-34.5" y="-6.5" width="69" height="13"/><text y="2.5">AccumulateGrad</text></g>
<g id="a44" class="n g" transform="translate(1213,2134)"><rect x="-34.5" y="-6.5" width="69" height="13"/><text y="2.5">AccumulateGrad</text></g>
<g id="c17" class="n g" transform="translate(1083,2172)"><rect x="-47" y="-6.5" width="94" height="13"/><text y="2.5">ConvolutionBackward0</text></g>
<g id="g11" class="n g" transform="translate(1068,2214)"><rect x="-32.5" y="-6.5" width="65" height="13"/><text y="2.5">GeluBackward0</text></g>
<g id="b45" class="n b" transform="translate(1159,2214)"><rect x="-42.5" y="-10.5" width="85" height="21"/><text y="2.5">(64, 64, 3, 3, 3)</text></g>
<g id="b46" class="n b" transform="translate(1241,2214)"><rect x="-18.5" y="-10.5" width="37" height="21"/><text y="2.5">(64)</text></g>
<g id="p11" class="n g" transform="translate(1063,2255)"><rect x="-51" y="-6.5" width="102" height="13"/><text y="2.5">ConstantPadNdBackward0</text></g>
<g id="a45" class="n g" transform="translate(1160,2255)"><rect x="-34.5" y="-6.5" width="69" height="13"/><text y="2.5">AccumulateGrad</text></g>
<g id="a46" class="n g" transform="translate(1241,2255)"><rect x="-34.5" y="-6.5" width="69" height="13"/><text y="2.5">AccumulateGrad</text></g>
<g id="c18" class="n g" transform="translate(1111,2296)"><rect x="-47" y="-6.5" width="94" height="13"/><text y="2.5">ConvolutionBackward0</text></g>
<g id="b47" class="n b" transform="translate(1189,2296)"><rect x="-18.5" y="-10.5" width="37" height="21"/><text y="2.5">(64)</text></g>
<g id="b48" class="n b" transform="translate(1269,2296)"><rect x="-18.5" y="-10.5" width="37" height="21"/><text y="2.5">(64)</text></g>
<g id="add6" class="n g" transform="translate(1111,2338)"><rect x="-30" y="-6.5" width="60" height="13"/><text y="2.5">AddBackward0</text></g>
<g id="a47" class="n g" transform="translate(1186,2338)"><rect x="-34.5" y="-6.5" width="69" height="13"/><text y="2.5">AccumulateGrad</text></g>
<g id="a48" class="n g" transform="translate(1268,2338)"><rect x="-34.5" y="-6.5" width="69" height="13"/><text y="2.5">AccumulateGrad</text></g>
<g id="bn6" class="n g" transform="translate(1188,2375)"><rect x="-53.5" y="-6.5" width="107" height="13"/><text y="2.5">CudnnBatchNormBackward0</text></g>

<g id="g12" class="n g" transform="translate(1188,2412)"><rect x="-32.5" y="-6.5" width="65" height="13"/><text y="2.5">GeluBackward0</text></g>
<g id="m6" class="n g" transform="translate(1188,2455)"><rect x="-66" y="-6.5" width="132" height="13"/><text y="2.5">MaxPool3DWithIndicesBackward0</text></g>
<g id="b49" class="n b" transform="translate(1006,2455)"><rect x="-42.5" y="-10.5" width="85" height="21"/><text y="2.5">(64, 64, 1, 1, 1)</text></g>
<g id="b50" class="n b" transform="translate(1089,2455)"><rect x="-18.5" y="-10.5" width="37" height="21"/><text y="2.5">(64)</text></g>
<g id="a49" class="n g" transform="translate(1004,2500)"><rect x="-34.5" y="-6.5" width="69" height="13"/><text y="2.5">AccumulateGrad</text></g>
<g id="a50" class="n g" transform="translate(1088,2500)"><rect x="-34.5" y="-6.5" width="69" height="13"/><text y="2.5">AccumulateGrad</text></g>
<g id="d6" class="n g" transform="translate(1188,2500)"><rect x="-51" y="-6.5" width="102" height="13"/><text y="2.5">NativeDropoutBackward0</text></g>
<g id="b51" class="n b" transform="translate(1295,2500)"><rect x="-42.5" y="-10.5" width="85" height="21"/><text y="2.5">(64, 64, 3, 3, 3)</text></g>
<g id="b52" class="n b" transform="translate(1376,2500)"><rect x="-18.5" y="-10.5" width="37" height="21"/><text y="2.5">(64)</text></g>
<g id="c19" class="n g" transform="translate(1087,2546)"><rect x="-47" y="-6.5" width="94" height="13"/><text y="2.5">ConvolutionBackward0</text></g>
<g id="p12" class="n g" transform="translate(1197,2546)"><rect x="-51" y="-6.5" width="102" height="13"/><text y="2.5">ConstantPadNdBackward0</text></g>
<g id="a51" class="n g" transform="translate(1294,2546)"><rect x="-34.5" y="-6.5" width="69" height="13"/><text y="2.5">AccumulateGrad</text></g>
<g id="a52" class="n g" transform="translate(1375,2546)"><rect x="-34.5" y="-6.5" width="69" height="13"/><text y="2.5">AccumulateGrad</text></g>
<g id="c20" class="n g" transform="translate(1234,2591)"><rect x="-47" y="-6.5" width="94" height="13"/><text y="2.5">ConvolutionBackward0</text></g>
<g id="g13" class="n g" transform="translate(1200,2637)"><rect x="-32.5" y="-6.5" width="65" height="13"/><text y="2.5">GeluBackward0</text></g>
<g id="b53" class="n b" transform="translate(1293,2637)"><rect x="-42.5" y="-10.5" width="85" height="21"/><text y="2.5">(64, 64, 3, 3, 3)</text></g>
<g id="b54" class="n b" transform="translate(1373,2637)"><rect x="-18.5" y="-10.5" width="37" height="21"/><text y="2.5">(64)</text></g>
<g id="p13" class="n g" transform="translate(1195,2683)"><rect x="-51" y="-6.5" width="102" height="13"/><text y="2.5">ConstantPadNdBackward0</text></g>
<g id="a53" class="n g" transform="translate(1293,2683)"><rect x="-34.5" y="-6.5" width="69" height="13"/><text y="2.5">AccumulateGrad</text></g>
<g id="a54" class="n g" transform="translate(1373,2683)"><rect x="-34.5" y="-6.5" width="69" height="13"/><text y="2.5">AccumulateGrad</text></g>
<g id="c21" class="n g" transform="translate(1245,2729)"><rect x="-47" y="-6.5" width="94" height="13"/><text y="2.5">ConvolutionBackward0</text></g>
<g id="b55" class="n b" transform="translate(1321,2729)"><rect x="-18.5" y="-10.5" width="37" height="21"/><text y="2.5">(64)</text></g>
<g id="b56" class="n b" transform="translate(1403,2729)"><rect x="-18.5" y="-10.5" width="37" height="21"/><text y="2.5">(64)</text></g>
<g id="add7" class="n g" transform="translate(1244,2774)"><rect x="-30" y="-6.5" width="60" height="13"/><text y="2.5">AddBackward0</text></g>
<g id="a55" class="n g" transform="translate(1322,2774)"><rect x="-34.5" y="-6.5" width="69" height="13"/><text y="2.5">AccumulateGrad</text></g>
<g id="a56" class="n g" transform="translate(1403,2774)"><rect x="-34.5" y="-6.5" width="69" height="13"/><text y="2.5">AccumulateGrad</text></g>
<g id="bn7" class="n g" transform="translate(1321,2815)"><rect x="-53.5" y="-6.5" width="107" height="13"/><text y="2.5">CudnnBatchNormBackward0</text></g>

<g id="g14" class="n g" transform="translate(1321,2857)"><rect x="-32.5" y="-6.5" width="65" height="13"/><text y="2.5">GeluBackward0</text></g>
<g id="m7" class="n g" transform="translate(1321,2903)"><rect x="-66" y="-6.5" width="132" height="13"/><text y="2.5">MaxPool3DWithIndicesBackward0</text></g>
<g id="b57" class="n b" transform="translate(1423,2903)"><rect x="-24" y="-10.5" width="48" height="21"/><text y="2.5">(40, 64)</text></g>
<g id="d7" class="n g" transform="translate(1323,2949)"><rect x="-51" y="-6.5" width="102" height="13"/><text y="2.5">NativeDropoutBackward0</text></g>
<g id="a57" class="n g" transform="translate(1423,2949)"><rect x="-34.5" y="-6.5" width="69" height="13"/><text y="2.5">AccumulateGrad</text></g>
<g id="b58" class="n b" transform="translate(1234,2949)"><rect x="-18.5" y="-10.5" width="37" height="21"/><text y="2.5">(40)</text></g>
<g id="a58" class="n g" transform="translate(1234,2994)"><rect x="-34.5" y="-6.5" width="69" height="13"/><text y="2.5">AccumulateGrad</text></g>
<g id="r1" class="n g" transform="translate(1329,2994)"><rect x="-49" y="-6.5" width="98" height="13"/><text y="2.5">ReshapeAliasBackward0</text></g>
<g id="t1" class="n g" transform="translate(1416,2994)"><rect x="-26" y="-6.5" width="52" height="13"/><text y="2.5">TBackward0</text></g>
<g id="b59" class="n b" transform="translate(1474,2994)"><rect x="-18.5" y="-10.5" width="37" height="21"/><text y="2.5">(40)</text></g>
<g id="b60" class="n b" transform="translate(1523,2994)"><rect x="-18.5" y="-10.5" width="37" height="21"/><text y="2.5">(40)</text></g>
<g id="mm1" class="n g" transform="translate(1329,3036)"><rect x="-34.5" y="-6.5" width="69" height="13"/><text y="2.5">AddmmBackward0</text></g>
<g id="a59" class="n g" transform="translate(1426,3036)"><rect x="-34.5" y="-6.5" width="69" height="13"/><text y="2.5">AccumulateGrad</text></g>
<g id="a60" class="n g" transform="translate(1515,3036)"><rect x="-34.5" y="-6.5" width="69" height="13"/><text y="2.5">AccumulateGrad</text></g>
<g id="nbn1" class="n g" transform="translate(1329,3077)"><rect x="-55.5" y="-6.5" width="111" height="13"/><text y="2.5">NativeBatchNormBackward0</text></g>
<g id="b61" class="n b" transform="translate(1445,3077)"><rect x="-50" y="-10.5" width="100" height="21"/><text y="-1.5">dense_layers.0.weight</text><text y="6.5">(256, 200)</text></g>
<g id="g15" class="n g" transform="translate(1317,3122)"><rect x="-32.5" y="-6.5" width="65" height="13"/><text y="2.5">GeluBackward0</text></g>
<g id="a61" class="n g" transform="translate(1414,3122)"><rect x="-34.5" y="-6.5" width="69" height="13"/><text y="2.5">AccumulateGrad</text></g>

<g id="b62" class="n b" transform="translate(784,2500)"><rect x="-26" y="-10.5" width="52" height="21"/><text y="2.5">(128, 27)</text></g>
<g id="a62" class="n g" transform="translate(784,2546)"><rect x="-34.5" y="-6.5" width="69" height="13"/><text y="2.5">AccumulateGrad</text></g>
<g id="b63" class="n b" transform="translate(713,2546)"><rect x="-18.5" y="-10.5" width="37" height="21"/><text y="2.5">(128)</text></g>
<g id="a63" class="n g" transform="translate(711,2591)"><rect x="-34.5" y="-6.5" width="69" height="13"/><text y="2.5">AccumulateGrad</text></g>
<g id="t3" class="n g" transform="translate(784,2591)"><rect x="-26" y="-6.5" width="52" height="13"/><text y="2.5">TBackward0</text></g>
<g id="b64" class="n b" transform="translate(854,2592)"><rect x="-18.5" y="-10.5" width="37" height="21"/><text y="2.5">(128)</text></g>
<g id="b65" class="n b" transform="translate(935,2592)"><rect x="-18.5" y="-10.5" width="37" height="21"/><text y="2.5">(128)</text></g>
<g id="mm2" class="n g" transform="translate(773,2637)"><rect x="-34.5" y="-6.5" width="69" height="13"/><text y="2.5">AddmmBackward0</text></g>
<g id="a64" class="n g" transform="translate(854,2637)"><rect x="-34.5" y="-6.5" width="69" height="13"/><text y="2.5">AccumulateGrad</text></g>
<g id="a65" class="n g" transform="translate(935,2637)"><rect x="-34.5" y="-6.5" width="69" height="13"/><text y="2.5">AccumulateGrad</text></g>
<g id="nbn2" class="n g" transform="translate(852,2683)"><rect x="-55.5" y="-6.5" width="111" height="13"/><text y="2.5">NativeBatchNormBackward0</text></g>
<g id="b66" class="n b" transform="translate(947,2683)"><rect x="-26" y="-10.5" width="52" height="21"/><text y="2.5">(64, 128)</text></g>
<g id="g16" class="n g" transform="translate(856,2728)"><rect x="-32.5" y="-6.5" width="65" height="13"/><text y="2.5">GeluBackward0</text></g>
<g id="a66" class="n g" transform="translate(945,2728)"><rect x="-34.5" y="-6.5" width="69" height="13"/><text y="2.5">AccumulateGrad</text></g>
<g id="b67" class="n b" transform="translate(760,2728)"><rect x="-18.5" y="-10.5" width="37" height="21"/><text y="2.5">(64)</text></g>
<g id="a67" class="n g" transform="translate(758,2773)"><rect x="-34.5" y="-6.5" width="69" height="13"/><text y="2.5">AccumulateGrad</text></g>
<g id="d8" class="n g" transform="translate(857,2773)"><rect x="-51" y="-6.5" width="102" height="13"/><text y="2.5">NativeDropoutBackward0</text></g>
<g id="t4" class="n g" transform="translate(940,2773)"><rect x="-26" y="-6.5" width="52" height="13"/><text y="2.5">TBackward0</text></g>
<g id="b68" class="n b" transform="translate(1003,2774)"><rect x="-18.5" y="-10.5" width="37" height="21"/><text y="2.5">(64)</text></g>
<g id="b69" class="n b" transform="translate(1054,2774)"><rect x="-18.5" y="-10.5" width="37" height="21"/><text y="2.5">(64)</text></g>
<g id="mm3" class="n g" transform="translate(874,2814)"><rect x="-34.5" y="-6.5" width="69" height="13"/><text y="2.5">AddmmBackward0</text></g>
<g id="a68" class="n g" transform="translate(968,2814)"><rect x="-34.5" y="-6.5" width="69" height="13"/><text y="2.5">AccumulateGrad</text></g>
<g id="a69" class="n g" transform="translate(1054,2814)"><rect x="-34.5" y="-6.5" width="69" height="13"/><text y="2.5">AccumulateGrad</text></g>
<g id="nbn3" class="n g" transform="translate(972,2857)"><rect x="-55.5" y="-6.5" width="111" height="13"/><text y="2.5">NativeBatchNormBackward0</text></g>
<g id="b71" class="n b" transform="translate(1064,2857)"><rect x="-24" y="-10.5" width="48" height="21"/><text y="2.5">(32, 64)</text></g>
<g id="b70" class="n b" transform="translate(876,2903)"><rect x="-18.5" y="-10.5" width="37" height="21"/><text y="2.5">(32)</text></g>
<g id="g17" class="n g" transform="translate(972,2903)"><rect x="-32.5" y="-6.5" width="65" height="13"/><text y="2.5">GeluBackward0</text></g>
<g id="a71" class="n g" transform="translate(1063,2903)"><rect x="-34.5" y="-6.5" width="69" height="13"/><text y="2.5">AccumulateGrad</text></g>
<g id="a70" class="n g" transform="translate(874,2949)"><rect x="-34.5" y="-6.5" width="69" height="13"/><text y="2.5">AccumulateGrad</text></g>
<g id="d9" class="n g" transform="translate(973,2949)"><rect x="-51" y="-6.5" width="102" height="13"/><text y="2.5">NativeDropoutBackward0</text></g>
<g id="t5" class="n g" transform="translate(1062,2949)"><rect x="-26" y="-6.5" width="52" height="13"/><text y="2.5">TBackward0</text></g>
<g id="b72" class="n b" transform="translate(1120,2949)"><rect x="-18.5" y="-10.5" width="37" height="21"/><text y="2.5">(32)</text></g>
<g id="b73" class="n b" transform="translate(1170,2949)"><rect x="-18.5" y="-10.5" width="37" height="21"/><text y="2.5">(32)</text></g>
<g id="mm4" class="n g" transform="translate(982,2994)"><rect x="-34.5" y="-6.5" width="69" height="13"/><text y="2.5">AddmmBackward0</text></g>
<g id="a72" class="n g" transform="translate(1071,2994)"><rect x="-34.5" y="-6.5" width="69" height="13"/><text y="2.5">AccumulateGrad</text></g>
<g id="a73" class="n g" transform="translate(1153,2994)"><rect x="-34.5" y="-6.5" width="69" height="13"/><text y="2.5">AccumulateGrad</text></g>
<g id="nbn4" class="n g" transform="translate(1096,3036)"><rect x="-55.5" y="-6.5" width="111" height="13"/><text y="2.5">NativeBatchNormBackward0</text></g>
<g id="g18" class="n g" transform="translate(1146,3077)"><rect x="-32.5" y="-6.5" width="65" height="13"/><text y="2.5">GeluBackward0</text></g>
<g id="d10" class="n g" transform="translate(1159,3122)"><rect x="-51" y="-6.5" width="102" height="13"/><text y="2.5">NativeDropoutBackward0</text></g>

<g id="b74" class="n b" transform="translate(541,2683)"><rect x="-32" y="-10.5" width="64" height="21"/><text y="2.5">(128, 64620)</text></g>
<g id="a74" class="n g" transform="translate(541,2728)"><rect x="-34.5" y="-6.5" width="69" height="13"/><text y="2.5">AccumulateGrad</text></g>
<g id="b75" class="n b" transform="translate(468,2728)"><rect x="-18.5" y="-10.5" width="37" height="21"/><text y="2.5">(128)</text></g>
<g id="a75" class="n g" transform="translate(468,2773)"><rect x="-34.5" y="-6.5" width="69" height="13"/><text y="2.5">AccumulateGrad</text></g>
<g id="t6" class="n g" transform="translate(540,2773)"><rect x="-26" y="-6.5" width="52" height="13"/><text y="2.5">TBackward0</text></g>
<g id="b76" class="n b" transform="translate(610,2774)"><rect x="-18.5" y="-10.5" width="37" height="21"/><text y="2.5">(128)</text></g>
<g id="b77" class="n b" transform="translate(691,2774)"><rect x="-18.5" y="-10.5" width="37" height="21"/><text y="2.5">(128)</text></g>
<g id="mm5" class="n g" transform="translate(528,2814)"><rect x="-34.5" y="-6.5" width="69" height="13"/><text y="2.5">AddmmBackward0</text></g>
<g id="a76" class="n g" transform="translate(610,2814)"><rect x="-34.5" y="-6.5" width="69" height="13"/><text y="2.5">AccumulateGrad</text></g>
<g id="a77" class="n g" transform="translate(691,2814)"><rect x="-34.5" y="-6.5" width="69" height="13"/><text y="2.5">AccumulateGrad</text></g>
<g id="nbn5" class="n g" transform="translate(609,2857)"><rect x="-55.5" y="-6.5" width="111" height="13"/><text y="2.5">NativeBatchNormBackward0</text></g>
<g id="b78" class="n b" transform="translate(706,2857)"><rect x="-28" y="-10.5" width="56" height="21"/><text y="2.5">(128, 128)</text></g>
<g id="b79" class="n b" transform="translate(517,2903)"><rect x="-18.5" y="-10.5" width="37" height="21"/><text y="2.5">(128)</text></g>
<g id="g19" class="n g" transform="translate(615,2903)"><rect x="-32.5" y="-6.5" width="65" height="13"/><text y="2.5">GeluBackward0</text></g>
<g id="a78" class="n g" transform="translate(704,2903)"><rect x="-34.5" y="-6.5" width="69" height="13"/><text y="2.5">AccumulateGrad</text></g>
<g id="a79" class="n g" transform="translate(517,2949)"><rect x="-34.5" y="-6.5" width="69" height="13"/><text y="2.5">AccumulateGrad</text></g>
<g id="d11" class="n g" transform="translate(614,2949)"><rect x="-51" y="-6.5" width="102" height="13"/><text y="2.5">NativeDropoutBackward0</text></g>
<g id="t7" class="n g" transform="translate(704,2949)"><rect x="-26" y="-6.5" width="52" height="13"/><text y="2.5">TBackward0</text></g>
<g id="b80" class="n b" transform="translate(761,2949)"><rect x="-18.5" y="-10.5" width="37" height="21"/><text y="2.5">(128)</text></g>
<g id="b81" class="n b" transform="translate(810,2949)"><rect x="-18.5" y="-10.5" width="37" height="21"/><text y="2.5">(128)</text></g>
<g id="mm6" class="n g" transform="translate(632,2994)"><rect x="-34.5" y="-6.5" width="69" height="13"/><text y="2.5">AddmmBackward0</text></g>
<g id="a80" class="n g" transform="translate(745,2994)"><rect x="-34.5" y="-6.5" width="69" height="13"/><text y="2.5">AccumulateGrad</text></g>
<g id="a81" class="n g" transform="translate(826,2994)"><rect x="-34.5" y="-6.5" width="69" height="13"/><text y="2.5">AccumulateGrad</text></g>
<g id="nbn6" class="n g" transform="translate(786,3036)"><rect x="-55.5" y="-6.5" width="111" height="13"/><text y="2.5">NativeBatchNormBackward0</text></g>
<g id="g20" class="n g" transform="translate(1000,3077)"><rect x="-32.5" y="-6.5" width="65" height="13"/><text y="2.5">GeluBackward0</text></g>
<g id="d12" class="n g" transform="translate(1044,3122)"><rect x="-51" y="-6.5" width="102" height="13"/><text y="2.5">NativeDropoutBackward0</text></g>

<g id="b82" class="n b" transform="translate(937,3122)"><rect x="-45" y="-10.5" width="90" height="21"/><text y="-1.5">dense_layers.0.bias</text><text y="6.5">(256)</text></g>
<g id="a82" class="n g" transform="translate(1009,3167)"><rect x="-34.5" y="-6.5" width="69" height="13"/><text y="2.5">AccumulateGrad</text></g>
<g id="cat" class="n g" transform="translate(1159,3167)"><rect x="-30" y="-6.5" width="60" height="13"/><text y="2.5">CatBackward0</text></g>
<g id="t2" class="n g" transform="translate(1227,3167)"><rect x="-26" y="-6.5" width="52" height="13"/><text y="2.5">TBackward0</text></g>
<g id="b83" class="n b" transform="translate(1308,3167)"><rect x="-43" y="-10.5" width="86" height="21"/><text y="-1.5">bn_layers.0.weight</text><text y="6.5">(256)</text></g>
<g id="b84" class="n b" transform="translate(1402,3167)"><rect x="-39" y="-10.5" width="78" height="21"/><text y="-1.5">bn_layers.0.bias</text><text y="6.5">(256)</text></g>
<g id="mm7" class="n g" transform="translate(1194,3208)"><rect x="-34.5" y="-6.5" width="69" height="13"/><text y="2.5">AddmmBackward0</text></g>
<g id="a83" class="n g" transform="translate(1309,3208)"><rect x="-34.5" y="-6.5" width="69" height="13"/><text y="2.5">AccumulateGrad</text></g>
<g id="a84" class="n g" transform="translate(1396,3208)"><rect x="-34.5" y="-6.5" width="69" height="13"/><text y="2.5">AccumulateGrad</text></g>
<g id="nbn7" class="n g" transform="translate(1308,3248)"><rect x="-55.5" y="-6.5" width="111" height="13"/><text y="2.5">NativeBatchNormBackward0</text></g>
<g id="b85" class="n b" transform="translate(1424,3248)"><rect x="-50" y="-10.5" width="100" height="21"/><text y="-1.5">dense_layers.1.weight</text><text y="6.5">(256, 256)</text></g>
<g id="b86" class="n b" transform="translate(1221,3293)"><rect x="-45" y="-10.5" width="90" height="21"/><text y="-1.5">dense_layers.1.bias</text><text y="6.5">(256)</text></g>
<g id="g21" class="n g" transform="translate(1314,3292)"><rect x="-32.5" y="-6.5" width="65" height="13"/><text y="2.5">GeluBackward0</text></g>
<g id="a85" class="n g" transform="translate(1419,3292)"><rect x="-34.5" y="-6.5" width="69" height="13"/><text y="2.5">AccumulateGrad</text></g>
<g id="a86" class="n g" transform="translate(1221,3336)"><rect x="-34.5" y="-6.5" width="69" height="13"/><text y="2.5">AccumulateGrad</text></g>
<g id="d13" class="n g" transform="translate(1318,3336)"><rect x="-51" y="-6.5" width="102" height="13"/><text y="2.5">NativeDropoutBackward0</text></g>
<g id="t8" class="n g" transform="translate(1409,3336)"><rect x="-26" y="-6.5" width="52" height="13"/><text y="2.5">TBackward0</text></g>
<g id="b87" class="n b" transform="translate(1490,3337)"><rect x="-43" y="-10.5" width="86" height="21"/><text y="-1.5">bn_layers.1.weight</text><text y="6.5">(256)</text></g>
<g id="b88" class="n b" transform="translate(1583,3337)"><rect x="-39" y="-10.5" width="78" height="21"/><text y="-1.5">bn_layers.1.bias</text><text y="6.5">(256)</text></g>
<g id="mm8" class="n g" transform="translate(1363,3377)"><rect x="-34.5" y="-6.5" width="69" height="13"/><text y="2.5">AddmmBackward0</text></g>
<g id="a87" class="n g" transform="translate(1489,3377)"><rect x="-34.5" y="-6.5" width="69" height="13"/><text y="2.5">AccumulateGrad</text></g>
<g id="a88" class="n g" transform="translate(1577,3377)"><rect x="-34.5" y="-6.5" width="69" height="13"/><text y="2.5">AccumulateGrad</text></g>
<g id="nbn8" class="n g" transform="translate(1490,3417)"><rect x="-55.5" y="-6.5" width="111" height="13"/><text y="2.5">NativeBatchNormBackward0</text></g>
<g id="b89" class="n b" transform="translate(1605,3417)"><rect x="-50" y="-10.5" width="100" height="21"/><text y="-1.5">dense_layers.2.weight</text><text y="6.5">(2, 256)</text></g>
<g id="b90" class="n b" transform="translate(1399,3462)"><rect x="-45" y="-10.5" width="90" height="21"/><text y="-1.5">dense_layers.2.bias</text><text y="6.5">(2)</text></g>
<g id="g22" class="n g" transform="translate(1492,3462)"><rect x="-32.5" y="-6.5" width="65" height="13"/><text y="2.5">GeluBackward0</text></g>
<g id="a89" class="n g" transform="translate(1600,3462)"><rect x="-34.5" y="-6.5" width="69" height="13"/><text y="2.5">AccumulateGrad</text></g>
<g id="a90" class="n g" transform="translate(1399,3503)"><rect x="-34.5" y="-6.5" width="69" height="13"/><text y="2.5">AccumulateGrad</text></g>
<g id="d14" class="n g" transform="translate(1496,3503)"><rect x="-51" y="-6.5" width="102" height="13"/><text y="2.5">NativeDropoutBackward0</text></g>
<g id="t9" class="n g" transform="translate(1597,3503)"><rect x="-26" y="-6.5" width="52" height="13"/><text y="2.5">TBackward0</text></g>
<g id="mm9" class="n g" transform="translate(1496,3540)"><rect x="-34.5" y="-6.5" width="69" height="13"/><text y="2.5">AddmmBackward0</text></g>
<g id="mean" class="n g" transform="translate(1496,3576)"><rect x="-32.5" y="-6.5" width="65" height="13"/><text y="2.5">MeanBackward0</text></g>
<g id="out" class="n o" transform="translate(1496,3618)"><rect x="-18" y="-10" width="36" height="20"/><text y="2.5">()</text></g>
</g>
<g id="labels">
<g id="lbl-cnn" class="lbl"><rect x="243" y="17" width="325" height="95"/><text x="405.5" y="80">3D CNN</text></g>
<g id="lbl-meta" class="lbl"><rect x="539" y="2328" width="324" height="138"/><text x="701" y="2390">Metadata</text><text x="701" y="2439">MLP</text></g>
<g id="lbl-rsfmri" class="lbl"><rect x="151" y="2502" width="325" height="190"/><text x="313.5" y="2563">rsfMRI</text><text x="313.5" y="2613">Connectivity</text><text x="313.5" y="2663">MLP</text></g>
<g id="lbl-concat" class="lbl"><rect x="765" y="3205" width="356" height="92"/><text x="943" y="3266">Concatenation</text></g>
<g id="lbl-cmlp" class="lbl"><rect x="976" y="3418" width="351" height="135"/><text x="1151.5" y="3477">Concatenated</text><text x="1151.5" y="3527">MLP</text></g>
</g>
</svg>
